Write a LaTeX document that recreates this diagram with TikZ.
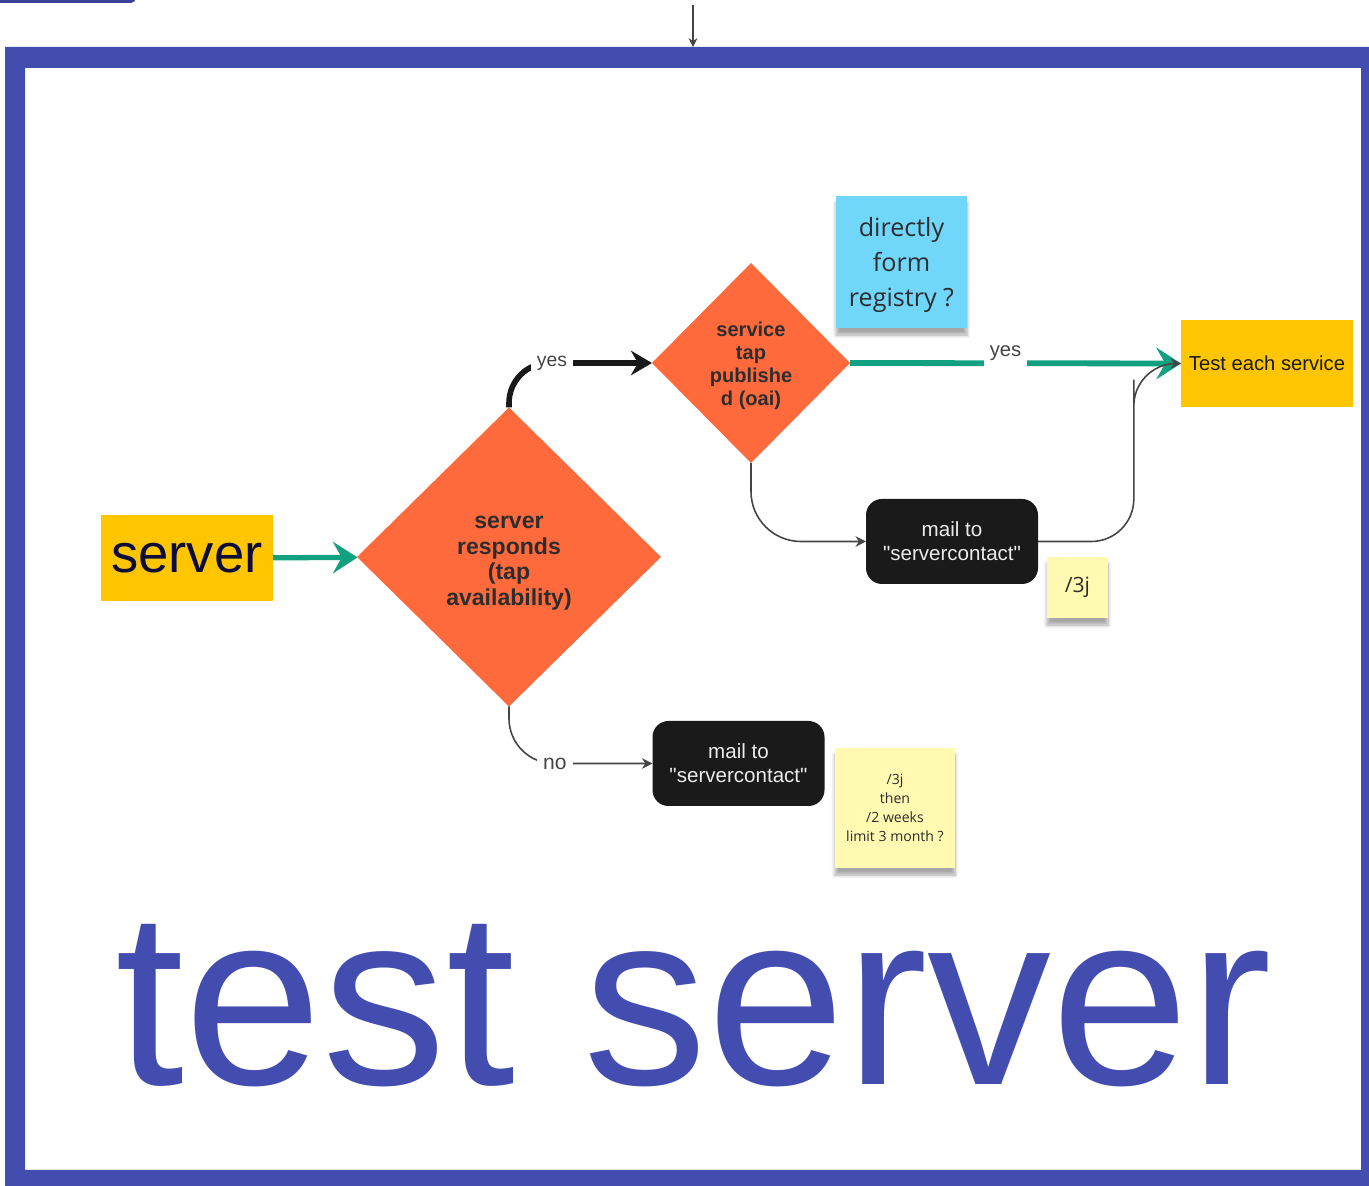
\documentclass[tikz,border=0pt]{standalone}
\definecolor{frameblue}{RGB}{67,77,176}
\definecolor{accentorange}{RGB}{255,106,61}
\definecolor{accentyellow}{RGB}{255,198,0}
\definecolor{accentteal}{RGB}{18,161,128}
\definecolor{noteblue}{RGB}{112,214,250}
\definecolor{noteyellow}{RGB}{255,249,177}
\definecolor{boxblack}{RGB}{26,26,26}
\definecolor{textgray}{RGB}{45,45,45}
\definecolor{linegray}{RGB}{68,68,68}
\definecolor{servernavy}{RGB}{12,12,56}
\usepackage{fontspec}
\setmainfont{Liberation Sans}
\newfontfamily\notefont{Open Sans}
\usetikzlibrary{shapes.geometric,arrows.meta,calc,positioning,shadows.blur}

\begin{document}
\begin{tikzpicture}[
        decision/.style={diamond, fill=accentorange, inner sep=0pt, outer sep=0pt, align=center, text=textgray},
        startbox/.style={rectangle, fill=accentyellow, inner sep=0pt, outer sep=0pt, minimum width=3.44cm, minimum height=1.73cm},
        mailbox/.style={rectangle, rounded corners=0.32cm, fill=boxblack, text=white!92!black, align=center, inner sep=0pt, outer sep=0pt, minimum width=3.44cm, minimum height=1.7cm, font=\fontsize{11.7}{13.7}\selectfont},
        note/.style={rectangle, inner sep=0pt, align=center, text=textgray, blur shadow={shadow xshift=0pt, shadow yshift=-4pt, shadow blur steps=6, shadow opacity=35}},
        flow/.style={accentteal, line width=3pt, -{Stealth[length=14pt, width=18pt, inset=5pt]}},
        conn/.style={linegray, line width=0.9pt, -{Stealth[length=6pt, width=6pt, inset=2pt]}},
        lbl/.style={sharp corners, fill=white, text=linegray, inner xsep=3.5pt, inner ysep=2pt}
    ]
            \useasboundingbox (0,0) rectangle (27.38,23.72);

            % Marco
            \fill[frameblue, even odd rule] (0.1,-0.3) rectangle (27.6,22.78) (0.5,0.32) rectangle (27.22,22.36);
            \fill[frameblue!85!black, rounded corners=3pt] (-0.3,23.66) rectangle (2.72,24.3);

            % Entrada
            \coordinate (entrada) at (13.86,23.62);
            \coordinate (marco) at (13.86,22.78);
            \draw[linegray, line width=0.8pt, -{Stealth[length=5pt, width=5pt]}] (entrada) -- (marco);

            % Nodos
            \node[startbox, font=\fontsize{31}{33}\selectfont, text=servernavy] (server) at (3.74,12.56) {server};
            \node[decision, minimum width=6.08cm, minimum height=5.98cm, font=\bfseries\fontsize{13.1}{14.6}\selectfont] (resp) at (10.18,12.58) {\rule{0pt}{14pt}server\\responds\\(tap\\availability)};
            \node[decision, minimum width=3.96cm, minimum height=4cm, font=\bfseries\fontsize{11.4}{13.1}\selectfont] (publ) at (15.02,16.46) {\rule{0pt}{11.6pt}service\\tap\\publishe\\d (oai)};
            \node[startbox, minimum height=1.74cm, font=\fontsize{11.5}{13}\selectfont, text=black!90] (test) at (25.34,16.45) {Test each service};
            \node[mailbox] (mailA) at (19.04,12.89) {mail to\\\textquotedbl servercontact\textquotedbl};
            \node[mailbox] (mailB) at (14.77,8.45) {mail to\\\textquotedbl servercontact\textquotedbl};

            % Notas
            \node[note, fill=noteblue, minimum width=2.62cm, minimum height=2.64cm, font=\notefont\fontsize{14.3}{19.9}\selectfont] (registry) at (18.03,18.48) {\rule{0pt}{14pt}directly\\form\\registry ?};
            \node[note, fill=noteyellow, minimum size=1.22cm, font=\notefont\fontsize{12}{14}\selectfont] (delayA) at (21.55,11.97) {/3j};
            \node[note, fill=noteyellow, minimum size=2.4cm, font=\notefont\fontsize{8}{10.8}\selectfont] (delayB) at (17.9,7.56) {/3j\\then\\/2 weeks\\limit 3 month ?};

            % Conexiones
            \draw[flow] (server) -- (resp);
            \draw[black!90, line width=3.2pt, rounded corners=0.8cm, -{Stealth[length=12pt, width=14pt, inset=4pt]}] (resp.north) |- node[lbl, pos=0.65, font=\fontsize{11}{13}\selectfont] (yesA) {yes} (publ.west);
            \draw[flow, line width=3.3pt] (publ.east) -- node[lbl, pos=0.47, yshift=6pt, inner ysep=5pt, font=\fontsize{11.5}{13}\selectfont] (yesB) {yes} (test.west);
            \draw[conn, rounded corners=1cm] (publ.south) |- (mailA.west);
            \draw[conn, rounded corners=0.85cm] (mailA.east) -| ($(mailA.east)!0.67!(test.west)$) |- (test.west);
            \draw[conn, rounded corners=0.9cm] (resp.south) |- node[lbl, pos=0.66, font=\fontsize{12}{14}\selectfont] (noA) {no} (mailB.west);

            % Titulo
            \node[text=frameblue, font=\fontsize{141}{142}\selectfont, anchor=base, inner sep=0pt] (title) at (13.88,2.02) {test server};
        \end{tikzpicture}
\end{document}
